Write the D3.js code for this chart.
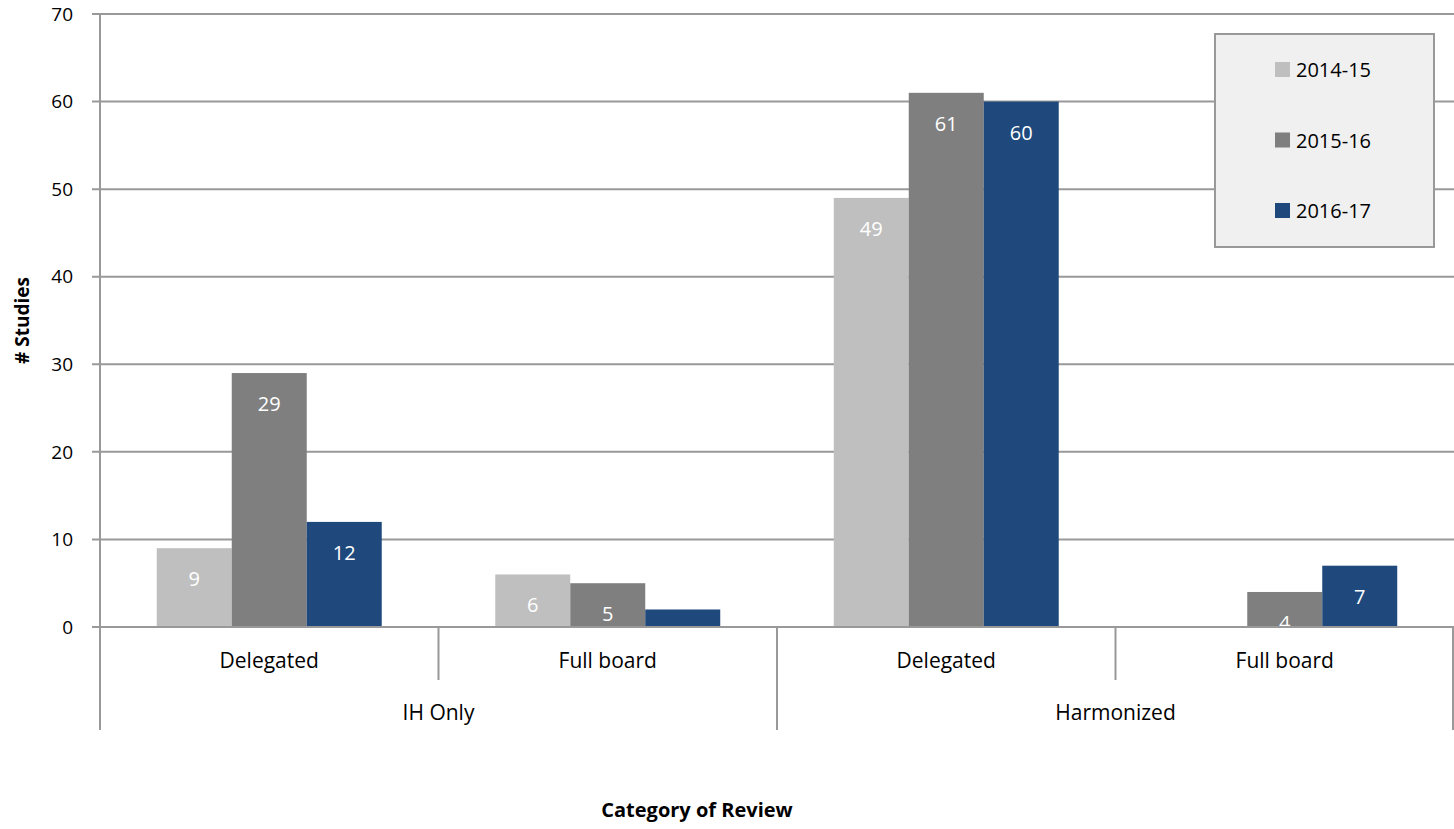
<!DOCTYPE html>
<html>
<head>
<meta charset="utf-8">
<script src="https://cdn.jsdelivr.net/npm/d3@7"></script>
<style>
  body { margin: 0; background: #fff; }
  svg { display: block; font-family: "Open Sans", "Noto Sans", sans-serif; }
</style>
</head>
<body>
<svg width="1454" height="829"></svg>
<script>
var svg = d3.select("svg"),
    width = 1454, height = 829;

// data
var groups = ["IH Only", "Harmonized"];
var categories = ["Delegated", "Full board", "Delegated", "Full board"];
var categoryGroup = [0, 0, 1, 1];
var series = ["2014-15", "2015-16", "2016-17"];
var colors = ["#bfbfbf", "#7f7f7f", "#1f497d"];
var values2014 = [9, 6, 49, null];
var values2015 = [29, 5, 61, 4];
var values2016 = [12, 2, 60, 7];
var yTicks = [0, 10, 20, 30, 40, 50, 60, 70];

var values = [values2014, values2015, values2016];

var m_left = 100, m_right = 1454, m_top = 14, m_bottom = 627;

var x = d3.scaleBand().domain(d3.range(categories.length)).range([m_left, m_right]).paddingInner(0).paddingOuter(0);
var xs = d3.scaleBand().domain(series).range([0, x.bandwidth()]).paddingInner(0).paddingOuter(0.757);
var y = d3.scaleLinear().domain([0, 70]).range([m_bottom, m_top]);

var grid_clr = "#999";

// gridlines
svg.append("g").selectAll("line").data(yTicks).join("line")
  .attr("x1", m_left - 8).attr("x2", m_right)
  .attr("y1", d => y(d)).attr("y2", d => y(d))
  .style("stroke", grid_clr).style("stroke-width", 2);

// y tick labels
svg.append("g").selectAll("text").data(yTicks).join("text")
  .attr("x", 73).attr("y", d => y(d)).attr("dy", "0.35em")
  .attr("text-anchor", "end")
  .style("font-size", "19px").style("fill", "#000")
  .text(d => d);

// clip for bars and labels
svg.append("defs").append("clipPath").attr("id", "plot")
  .append("rect").attr("x", m_left).attr("y", 0).attr("width", m_right - m_left).attr("height", m_bottom);

var plot = svg.append("g").attr("clip-path", "url(#plot)");

series.forEach((s, si) => {
  var g = plot.append("g");
  var data = values[si].map((v, i) => ({ i: i, v: v })).filter(d => d.v != null);
  g.selectAll("rect").data(data).join("rect")
    .attr("x", d => x(d.i) + xs(s))
    .attr("y", d => y(d.v))
    .attr("width", xs.bandwidth())
    .attr("height", d => y(0) - y(d.v))
    .style("fill", colors[si]);
  g.selectAll("text").data(data).join("text")
    .attr("x", d => x(d.i) + xs(s) + xs.bandwidth() / 2)
    .attr("y", d => y(d.v) + 31)
    .attr("dy", "0.35em")
    .attr("text-anchor", "middle")
    .style("font-size", "20px").style("fill", "#fff")
    .text(d => d.v);
});

// redraw baseline on top of bars
svg.append("line").attr("x1", m_left - 8).attr("x2", m_right).attr("y1", y(0)).attr("y2", y(0))
  .style("stroke", grid_clr).style("stroke-width", 2);

// y axis line
svg.append("line").attr("x1", m_left).attr("x2", m_left).attr("y1", m_top).attr("y2", 730)
  .style("stroke", grid_clr).style("stroke-width", 2);

// category separators
var sep = svg.append("g");
d3.range(1, categories.length + 1).forEach(i => {
  var xx = i < categories.length ? x(i) : m_right - 1;
  var isGroup = (i === categories.length || categoryGroup[i] !== categoryGroup[i - 1]);
  sep.append("line").attr("x1", xx).attr("x2", xx).attr("y1", m_bottom).attr("y2", isGroup ? 730 : 680)
    .style("stroke", grid_clr).style("stroke-width", 2);
});

// category labels
svg.append("g").selectAll("text").data(categories).join("text")
  .attr("x", (d, i) => x(i) + x.bandwidth() / 2).attr("y", 661).attr("dy", "0.35em")
  .attr("text-anchor", "middle")
  .style("font-size", "21px").style("fill", "#000")
  .text(d => d);

// group labels
svg.append("g").selectAll("text").data(groups).join("text")
  .attr("x", (d, gi) => {
    var idx = categoryGroup.map((g, i) => g === gi ? i : -1).filter(i => i >= 0);
    return (x(idx[0]) + x(idx[idx.length - 1]) + x.bandwidth()) / 2;
  })
  .attr("y", 713).attr("dy", "0.35em")
  .attr("text-anchor", "middle")
  .style("font-size", "21px").style("fill", "#000")
  .text(d => d);

// axis titles
svg.append("text")
  .attr("transform", "translate(22," + ((m_top + m_bottom) / 2) + ") rotate(-90)")
  .attr("dy", "0.35em").attr("text-anchor", "middle")
  .style("font-size", "19px").style("font-weight", "bold")
  .text("# Studies");

svg.append("text")
  .attr("x", 697).attr("y", 810).attr("dy", "0.35em").attr("text-anchor", "middle")
  .style("font-size", "20px").style("font-weight", "bold")
  .text("Category of Review");

// legend
var legend = svg.append("g").attr("transform", "translate(1215,34)");
legend.append("rect").attr("width", 219).attr("height", 213)
  .style("fill", "#f0f0f0").style("stroke", "#999").style("stroke-width", 2);
var items = legend.selectAll("g").data(series).join("g")
  .attr("transform", (d, i) => "translate(60," + (36 + i * 70.5) + ")");
items.append("rect").attr("x", 0).attr("y", -8).attr("width", 15).attr("height", 15)
  .style("fill", (d, i) => colors[i]);
items.append("text").attr("x", 21).attr("y", 0).attr("dy", "0.35em")
  .style("font-size", "20px").style("fill", "#000")
  .text(d => d);
</script>
</body>
</html>
